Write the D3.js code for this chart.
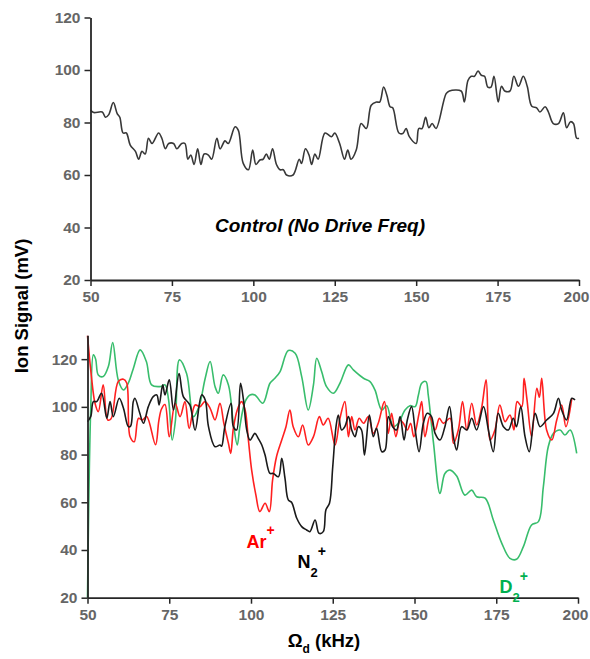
<!DOCTYPE html>
<html>
<head>
<meta charset="utf-8">
<script src="https://cdn.jsdelivr.net/npm/d3@7"></script>
<style>
body{margin:0;background:#fff;}
svg{display:block;}
</style>
</head>
<body>
<svg id="chart"></svg>
<script>
// x ticks shared by both panels
const xTicks = [50,75,100,125,150,175,200]
const yTicks = [20,40,60,80,100,120]

// control run, no drive frequency (top panel)
const control = [[50,84.7],[51,83.8],[53.6,84],[54.6,82],[55.6,83],[57,87.6],[58.2,83.4],[59,82],[60,76],[61,76],[62.2,71.4],[63.8,69],[64.8,66],[65.8,69],[66.8,68],[67.8,74],[68.9,72],[70.9,76],[71.9,74],[73,70],[74,72],[75.5,72],[76.5,70],[78,72],[79,72],[79.9,66],[80.8,67.6],[81.8,64],[82.9,70],[83.9,64],[84.9,68],[86.2,67.6],[87.2,66],[88.8,74],[89.8,70],[91.3,73],[92.3,72],[94.4,78.4],[95.4,77],[96.9,64.4],[98.5,62],[99.8,69.5],[100.8,64],[102,65.7],[103,66],[104,68],[104.9,66],[105.9,70],[107.1,64],[108.2,62],[109.2,62],[110.2,60],[112.2,60],[114.1,66],[114.8,64.4],[116,70],[117.1,67.6],[117.9,64],[118.9,68],[119.9,66],[122,76],[124,74.6],[125,76],[126.5,72],[128,66],[129,69.5],[130,66],[131.6,69.5],[133.1,79.6],[134.7,77.7],[136.2,86.6],[137.8,87.8],[138.8,87.8],[140,93.5],[141,90.4],[142,86],[142.8,85.6],[144.7,76],[145.9,75.8],[146.9,77.7],[147.9,74.6],[150,72],[150.8,77.7],[151.8,77.7],[152.9,82],[153.9,78],[154.9,79.6],[156.1,77.7],[159.2,91],[160.2,92],[163.8,92],[164.8,87.8],[165.9,96],[166.9,97.6],[167.9,97.6],[169,99.6],[170,98],[171,97.6],[172,93.5],[173,93.5],[173.9,97.6],[175.2,87.8],[176.2,93.8],[177.2,92],[178.8,92],[180,97.6],[181.4,93.8],[182.9,97.6],[184.1,93.8],[185.5,86.2],[187,85.6],[188,84],[189.6,86],[190.6,84],[192.1,79.6],[193.7,79.6],[195.2,83.7],[196.2,78],[197.4,80.3],[198.3,79.6],[199.3,74],[200,74]]

// N2+ (black)
const n2 = [[50,93.8],[51,96],[51.8,102.2],[52.8,102.2],[54.3,105.7],[55.9,95.2],[56.9,102.2],[57.9,95.9],[59.7,103.6],[61,99.4],[62.5,91.7],[63.2,92],[64,102.2],[64.5,103.6],[66,97.3],[67.1,93.1],[68.6,100.1],[70.1,104.3],[71.2,105],[71.9,100.8],[73,109.2],[73.7,105],[75,111.3],[76.3,98.7],[78,114],[79.3,104.3],[81.3,100.8],[82.9,90.3],[84.9,105],[86,102.9],[87,91.7],[89,83.3],[90.5,84],[91,83.5],[92,91.7],[93.9,101.5],[94.6,91.7],[95.6,90.3],[96.8,109.9],[97.7,102.9],[98.7,90.3],[99.7,86.1],[101.2,88.9],[102.2,86.8],[103.3,84],[104.3,79.8],[105.8,72.1],[106.8,72.1],[108.4,70.7],[109.4,78.4],[110.4,70],[111.4,61],[112.4,60],[114,53.3],[115.5,49.8],[117,48.4],[118,47.7],[119.6,52.6],[120.8,47],[122.1,47.7],[122.9,56.8],[124,59.6],[125,74.9],[126,91.7],[126.7,96.6],[127.7,90.3],[128.7,91.7],[129.8,95.9],[130.8,90.3],[131.8,87.5],[132.8,91.7],[133.8,90.3],[134.7,79.8],[136.2,96.6],[137.4,87.5],[138.4,91],[140,81.2],[141,81.9],[142,95.9],[143.3,91.7],[144.5,90.3],[145.6,95.9],[146.8,86.1],[147.8,94.5],[149.1,100.1],[150.2,90.3],[151.4,81.2],[152.7,93.1],[153.9,97.3],[155.2,95.9],[156.3,88.9],[157.8,86.1],[159.3,91.7],[160.7,100.1],[161.9,87.5],[162.9,81.9],[164.4,91.7],[166,90.3],[167.5,95.2],[169,90.3],[171.1,100.1],[172.6,90.3],[174.1,81.2],[175.6,97.3],[177.2,91.7],[178.7,90.3],[180.2,95.2],[181.2,91.7],[182.5,100.1],[183.8,87.5],[185.1,81.2],[186.9,97.3],[188.4,91.7],[190.4,94.5],[192.5,97.3],[194,103.6],[195,98.7],[196.5,94.5],[198.1,103.6],[199.1,102.9]]

// Ar+ (red)
const ar = [[50,129.8],[51.2,112.7],[52.3,101.5],[53.3,98],[54.8,109.2],[56.2,94.5],[57.2,95],[59.4,110.6],[61,111.6],[62,110],[63,87.6],[64.3,85.4],[65.6,95.2],[66.8,94.5],[68.1,96],[70.8,84.1],[71.8,94],[72.6,99],[73.7,101],[75,87.5],[76.8,101.5],[78.3,95.9],[79.8,102.2],[81.1,91],[82.9,100.8],[84.4,100.1],[85.9,102.2],[87.5,99.4],[89,94.5],[90.5,101.5],[91.7,93.1],[93.1,84.7],[93.8,80.5],[94.6,91],[95.8,98.7],[97.1,102.2],[98.2,98.7],[99.2,86.1],[100.2,73.5],[101.5,63],[102.7,56.1],[104.3,59.6],[105.6,56.1],[106.6,69.3],[107.8,79.1],[109.4,86.1],[110.7,91.7],[111.9,98.7],[112.9,91.7],[114.5,87.5],[115.8,92.4],[117.5,84],[119.1,87.5],[120.9,95.9],[122.1,92.4],[123.6,95.2],[125.7,84],[127.2,95.2],[128.7,102.2],[129.8,87.5],[130.8,95.9],[131.8,90.3],[133.1,95.2],[134.4,93.1],[135.9,95.9],[137.4,88.9],[138.9,93.1],[140.8,102.2],[142,88.9],[143,97.3],[144.3,87.5],[145.6,94.5],[146.6,93.1],[147.8,90.3],[148.8,93.1],[149.8,87.5],[151.4,97.3],[152.2,102.2],[153.2,87.5],[154.7,95.9],[156.3,90.3],[157.6,95.2],[158.8,93.1],[160.9,95.2],[161.9,84.7],[163.4,90.3],[164.7,102.2],[166,90.3],[167.5,101.5],[169,92.4],[170.5,99.4],[171.9,111.3],[173.1,86.1],[174.6,90.3],[176.1,100.8],[177.7,93.8],[179.2,96.6],[180.4,90.3],[181.4,102.2],[182.8,100.1],[183.5,112],[184.4,103],[185.8,87.5],[187.4,107.8],[188.2,104],[188.9,112],[190.4,90.3],[192,86.1],[193.5,94.5],[195,100.8],[196.3,91.7],[198.1,103.6]]

// D2+ (green)
const d2 = [[50,20],[51,100],[51.8,121.8],[52.5,120],[53.3,113.4],[54.8,112.7],[56.4,117],[57.7,127],[59.4,111.3],[61,107.1],[62.5,110],[64,116],[66.1,123.9],[68,119],[69.6,109.2],[72.2,108.5],[73.7,109.2],[74.8,102.9],[75.9,86.1],[76.9,94.5],[78.1,119.7],[80.3,114],[82.4,95.9],[84.1,100.1],[86,112],[87.5,119],[89,108.5],[90,105.7],[91.5,113.4],[93.1,109.2],[94.6,93.1],[95.8,84],[96.6,91.7],[98.2,102.2],[99.7,105],[101.2,105],[103.6,101.5],[105.8,109.9],[107.3,112],[108.9,114.8],[111.4,123.6],[113.5,122.5],[115.5,112.7],[117.5,98.7],[119.1,109.2],[120.1,120.4],[121.6,114.8],[123.1,108.5],[125.2,105.7],[127.2,109.9],[129.8,117.6],[131.3,115.5],[134.4,112],[136.4,110.6],[137.9,107.1],[140,98.7],[141.5,100.5],[143.5,91.7],[145,93],[147.1,98.7],[148.6,100.5],[150.2,100.1],[151.2,105],[152.2,109.9],[153.5,110.6],[154.2,105],[155.8,85],[157.8,63.7],[159.3,72.1],[160.9,73.5],[162.9,71],[165.4,63],[167.5,65.1],[169,62.3],[171.6,61.7],[174.1,52.6],[176.7,42.8],[179.2,36.5],[181.2,36.1],[183.3,41.4],[185.8,50.5],[187.9,51.9],[189.4,66.5],[190.9,83.3],[192.5,88.9],[194.5,90.3],[196,88.2],[197.6,90.3],[199.6,80.5]]

class Line_panel{
    constructor(config,series){
        this.config = config
        this.series = series
        this.init()
    }
    init(){
        let self = this
        let c = self.config
        self.xscale = d3.scaleLinear().domain([50,200]).range([c.left,c.right])
        self.yscale = d3.scaleLinear().domain(c.ydomain).range([c.bottom,c.top])

        self.g = c.svg.append("g")

        self.xaxis = d3.axisBottom(self.xscale).tickValues(xTicks).tickSize(6).tickSizeOuter(0).tickPadding(5)
        self.yaxis = d3.axisLeft(self.yscale).tickValues(yTicks).tickSize(6).tickSizeOuter(0).tickPadding(4)

        self.line = d3.line()
            .x(d=>self.xscale(d[0]))
            .y(d=>self.yscale(d[1]))
            .curve(d3.curveCatmullRom.alpha(0.5))
    }
    render(){
        let self = this
        let c = self.config
        self.series.forEach(s=>{
            self.g.append("path")
                .datum(s.data)
                .attr("fill","none")
                .attr("stroke",s.color)
                .attr("stroke-width",1.6)
                .attr("stroke-linejoin","round")
                .attr("d",self.line)
        })
        let xg = self.g.append("g")
            .attr("transform",`translate(0,${c.bottom})`)
            .call(self.xaxis)
        let yg = self.g.append("g")
            .attr("transform",`translate(${c.left},0)`)
            .call(self.yaxis)
        ;[xg,yg].forEach(a=>{
            a.select(".domain").attr("stroke","#262626").attr("stroke-width",1.8)
            a.selectAll(".tick line").attr("stroke","#262626").attr("stroke-width",1.5)
            a.selectAll(".tick text")
                .attr("fill","#666666")
                .attr("font-family","'Liberation Sans', Arial, sans-serif")
                .attr("font-weight","bold")
                .attr("font-size",15.5)
        })
        // keep the last label inside the page
        xg.selectAll(".tick text").filter(d=>d==200).attr("dx",-3)
    }
}

const svg = d3.select("#chart").attr("width",590).attr("height",659)

const top_panel = new Line_panel({
    svg:svg, left:90.5, right:579, top:17.5, bottom:280, ydomain:[20,120]
},[{data:control,color:"#383838"}])
top_panel.render()

const bottom_panel = new Line_panel({
    svg:svg, left:87.5, right:578, top:335.3, bottom:597.7, ydomain:[20,130]
},[
    {data:d2,color:"#38bd6c"},
    {data:ar,color:"#ff2020"},
    {data:n2,color:"#1a1a1a"}
])
bottom_panel.render()

// annotations
svg.append("text")
    .attr("x",320)
    .attr("y",232)
    .attr("text-anchor","middle")
    .attr("font-family","'Liberation Sans', Arial, sans-serif")
    .attr("font-size",19)
    .attr("font-weight","bold")
    .attr("font-style","italic")
    .text("Control (No Drive Freq)")

svg.append("text")
    .attr("transform","rotate(-90)")
    .attr("x",-306)
    .attr("y",28)
    .attr("text-anchor","middle")
    .attr("font-family","'Liberation Sans', Arial, sans-serif")
    .attr("font-size",18.5)
    .attr("font-weight","bold")
    .text("Ion Signal (mV)")

const xlab = svg.append("text")
    .attr("x",324)
    .attr("y",647)
    .attr("text-anchor","middle")
    .attr("font-family","'Liberation Sans', Arial, sans-serif")
    .attr("font-size",18.5)
    .attr("font-weight","bold")
xlab.append("tspan").text("Ω")
xlab.append("tspan").attr("dy",6).attr("font-size",12).text("d")
xlab.append("tspan").attr("dy",-6).text(" (kHz)")

function ion_label(x,y,name,sub,color){
    let t = svg.append("text")
        .attr("x",x).attr("y",y)
        .attr("font-family","'Liberation Sans', Arial, sans-serif")
        .attr("font-size",18)
        .attr("font-weight","bold")
        .attr("fill",color)
    t.append("tspan").text(name)
    if(sub){
        t.append("tspan").attr("dy",9).attr("font-size",13).text(sub)
        t.append("tspan").attr("dy",-21).attr("font-size",14).text("+")
    }else{
        t.append("tspan").attr("dy",-13).attr("font-size",14).text("+")
    }
}
ion_label(246.5,548,"Ar",null,"#ff0000")
ion_label(297.5,568,"N","2","#000000")
ion_label(499.5,593,"D","2","#00b050")
</script>
</body>
</html>
